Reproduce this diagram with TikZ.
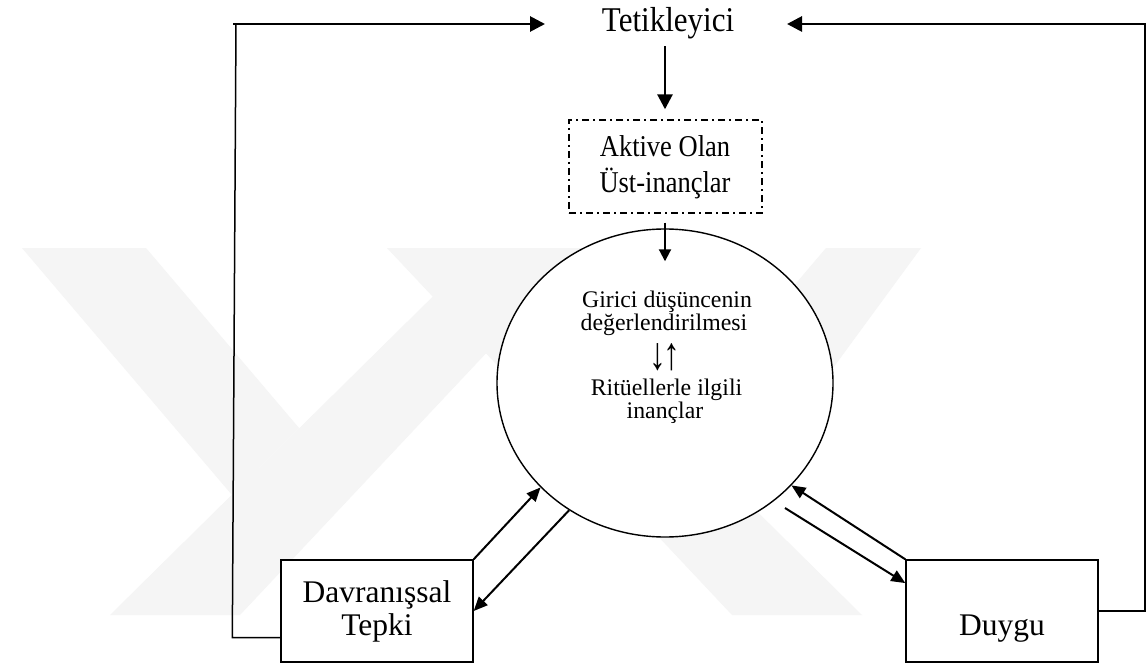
\documentclass[tikz,border=0pt]{standalone}
\usepackage{fontspec}
\setmainfont{Liberation Serif}
\usetikzlibrary{arrows.meta,shapes.geometric,calc}
\newcommand{\vstretch}[2]{\scalebox{1}[#1]{#2}}
\begin{document}
\begin{tikzpicture}[x=1pt,y=-1pt,
  wm/.style={fill=black!4,draw=none},
  conn/.style={line width=1.5pt},
  arr/.style={line width=2pt,-{Triangle[length=14pt,width=12pt]}},
  bigarr/.style={line width=2.8pt,-{Triangle[length=15pt,width=15pt]}},
  boxnode/.style={draw,line width=1.4pt,fill=white,minimum width=192pt,minimum height=102pt,inner sep=0pt,align=center,font=\fontsize{31.5}{33}\selectfont},
  dashbox/.style={draw,line width=1.4pt,dash pattern=on 7pt off 4pt on 2pt off 4pt,minimum width=193pt,minimum height=93pt,inner sep=0pt},
  txt/.style={inner sep=0pt,anchor=base},
  elltxt/.style={txt,font=\fontsize{23.8}{23.8}\selectfont},
]
\useasboundingbox (0,0) rectangle (1146,666);
\fill[white] (0,0) rectangle (1146,666);
% watermark
\fill[wm] (22,248) -- (146,248) -- (299,428) -- (232,495) -- cycle;
\fill[wm] (482,248) -- (585,248) -- (240,615) -- (110,615) -- cycle;
\fill[wm] (921,248) -- (826,248) -- (673,428) -- (740,495) -- cycle;
\fill[wm] (490,248) -- (387,248) -- (732,615) -- (862,615) -- cycle;

% nodes
\node[txt] (tet) at (668,32) {\vstretch{1.12}{\fontsize{31}{31}\selectfont Tetikleyici}};
\node[dashbox] (dash) at (665.5,166.5) {};
\node[txt] (akt1) at (665,157) {\vstretch{1.14}{\fontsize{26.5}{26.5}\selectfont Aktive Olan}};
\node[txt] (akt2) at (665,193) {\vstretch{1.14}{\fontsize{26.5}{26.5}\selectfont Üst-inançlar}};
\node[ellipse,draw,line width=1.4pt,fill=white,minimum width=336pt,minimum height=308pt,inner sep=0pt] (ell) at (665,383) {};
\node[elltxt] (e1) at (667,307) {Girici düşüncenin};
\node[elltxt] (e2) at (664,330) {değerlendirilmesi};
\node[inner sep=0pt] (e3) at (665,357) {\scalebox{1.2}[1.65]{\fontsize{28}{28}\selectfont ↓\kern-2.5pt↑}};
\node[elltxt] (e4) at (666.5,395) {Ritüellerle ilgili};
\node[elltxt] (e5) at (665,418) {inançlar};
\node[boxnode] (dav) at (377,611) {Davranışsal\\Tepki};
\node[boxnode] (duy) at (1002,611) {\strut\\Duygu};

\coordinate (lc) at (236,24);
\coordinate (rc) at (1145,24);
\coordinate (tetL) at (545,24);
\coordinate (tetR) at (787,24);
\coordinate (d2s) at (785,508);

% feedback loops
\draw[conn] ($(dav.south west)+(0,-25)$) -- ($(dav.south west)+(-48,-25)$) -- (lc);
\draw[bigarr] ($(lc)+(-3,0)$) -- (tetL);
\draw[conn] (duy.east) -| (rc);
\draw[bigarr] ($(rc)+(0.75,0)$) -- (tetR);

% vertical arrows
\draw[bigarr] ($(dash.north)+(-0.5,-73)$) -- ($(dash.north)+(-0.5,-10)$);
\draw[line width=2pt,-{Triangle[length=12pt,width=12pt]}] ($(dash.south)+(-0.5,9)$) -- ($(ell.north)+(0,33)$);

% diagonal arrows
\draw[arr] (dav.north east) -- (ell.220);
\draw[arr] (ell.233) -- (dav.east);
\draw[arr] (duy.north west) -- (ell.321);
\draw[arr] (d2s) -- ($(duy.north west)!0.23!(duy.south west)$);
\end{tikzpicture}
\end{document}
